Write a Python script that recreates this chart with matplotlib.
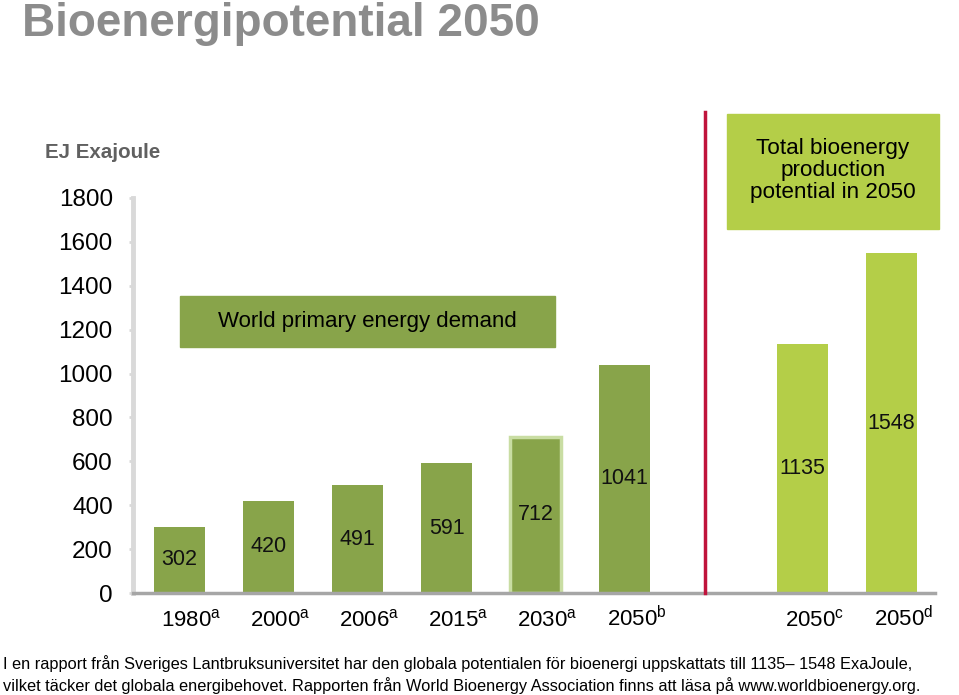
import numpy as np
import matplotlib
matplotlib.use("Agg")
import matplotlib.pyplot as plt
import matplotlib.transforms as mtransforms
from matplotlib.patches import Rectangle

plt.rcParams['font.family'] = ['Liberation Sans', 'DejaVu Sans']
plt.rcParams['mathtext.fontset'] = 'custom'
plt.rcParams['mathtext.rm'] = 'Liberation Sans'

# data
years = ["1980", "2000", "2006", "2015", "2030", "2050", "2050", "2050"]
notes = ["a", "a", "a", "a", "a", "b", "c", "d"]
values = [302, 420, 491, 591, 712, 1041, 1135, 1548]
slots = [0, 1, 2, 3, 4, 5, 7, 8]
kind = ["demand"] * 6 + ["bio"] * 2
yticks = [0, 200, 400, 600, 800, 1000, 1200, 1400, 1600, 1800]

dark = "#88A44A"
light = "#B4CE48"

fig = plt.figure(figsize=(9.59, 6.95), dpi=100)
ax = fig.add_axes([133/959, 1-593/695, (935-133)/959, (593-198)/695])

cols = [dark if k == "demand" else light for k in kind]
bars = ax.bar(slots, values, width=0.57, color=cols, zorder=2)
# 2030 bar has a pale rim
bars[4].set_edgecolor("#C9DDA3")
bars[4].set_linewidth(2.5)

for x, v in zip(slots, values):
    ax.text(x, v/2, str(v), ha='center', va='center', fontsize=15.5, color='#111111', zorder=3)

ax.set_xlim(-0.5225, 8.489)
ax.set_ylim(0, 1800)
ax.set_yticks(yticks)
ax.set_yticklabels([str(t) for t in yticks], fontsize=17.5)
ax.tick_params(axis='y', length=3, width=2, color='#D9D9D9', pad=11.5)

ax.set_xticks(slots)
ax.set_xticklabels([y + "$^{\\mathrm{" + n + "}}$" for y, n in zip(years, notes)], fontsize=16)
ax.tick_params(axis='x', length=0, pad=24)
off = mtransforms.ScaledTranslation(12/100, 0, fig.dpi_scale_trans)
for lab in ax.get_xticklabels():
    lab.set_transform(lab.get_transform() + off)
    lab.set_verticalalignment('baseline')

for s in ['top', 'right']:
    ax.spines[s].set_visible(False)
ax.spines['left'].set_color('#D9D9D9')
ax.spines['left'].set_linewidth(3.5)
ax.spines['bottom'].set_color('#A6A6A6')
ax.spines['bottom'].set_linewidth(2.5)
ax.spines['bottom'].set_zorder(4)

# divider between demand and bioenergy potential
ax.plot([5.905, 5.905], [0, 2190], color='#C0143C', lw=2.5, clip_on=False, zorder=5)

# annotation boxes
ax.add_patch(Rectangle((0.0, 1121), 4.22, 233, color=dark, clip_on=False))
ax.text(2.11, 1237, "World primary energy demand", ha='center', va='center', fontsize=16)
ax.add_patch(Rectangle((6.15, 1659), 2.38, 524, color=light, clip_on=False))
ax.text(7.34, 1925, "Total bioenergy\nproduction\npotential in 2050", ha='center', va='center',
        fontsize=16.2, linespacing=1.08)

fig.text(22/959, 1-36/695, "Bioenergipotential 2050", fontsize=33, fontweight='bold',
         color='#8C8C8C', va='baseline')
fig.text(45/959, 1-158/695, "EJ Exajoule", fontsize=14.8, fontweight='bold',
         color='#606060', va='baseline')

fig.text(3/959, 1-669/695,
         "I en rapport från Sveriges Lantbruksuniversitet har den globala potentialen för bioenergi uppskattats till 1135– 1548 ExaJoule,",
         fontsize=11.8, va='baseline')
fig.text(3/959, 1-691/695,
         "vilket täcker det globala energibehovet. Rapporten från World Bioenergy Association finns att läsa på www.worldbioenergy.org.",
         fontsize=11.8, va='baseline')

fig.savefig("out.png", dpi=100)
